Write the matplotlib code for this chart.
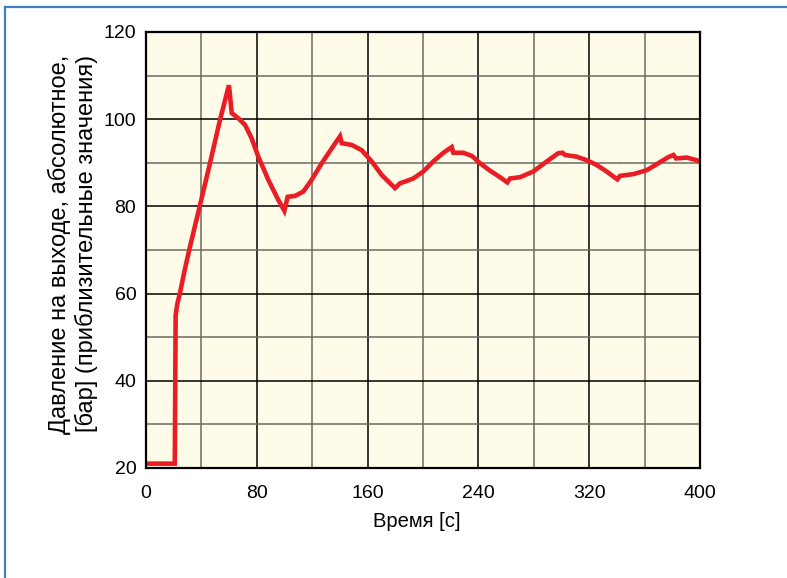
import matplotlib
matplotlib.use("Agg")
import matplotlib.pyplot as plt
from matplotlib.lines import Line2D

plt.rcParams['font.family'] = ['Liberation Sans', 'DejaVu Sans']

time_s = [0, 20.8, 21.4, 22.5, 24.5, 28, 31.8, 39, 46.2, 53.4, 59.9, 61.9,
          66.7, 71.5, 76.3, 81.1, 88.3, 95.5, 99.9, 102.3, 107.6, 113.6, 119.6,
          126.9, 134.1, 140.1, 141.3, 148.5, 155.7, 163, 170.2, 179.8, 183.4,
          187, 193, 200.2, 207.4, 214.7, 220.7, 221.9, 229.1, 235.2, 241.2,
          248.4, 255.6, 260.9, 262.8, 270, 279.6, 289.3, 297.7, 300.8, 302.5,
          311, 318.2, 325.4, 332.6, 340.3, 342.2, 351.8, 361.5, 369.9, 377.1,
          380.8, 382.7, 390.4, 397.6, 400]
pressure = [21, 21, 55, 57.5, 60.1, 65.5, 70.8, 80.3, 89.9, 99.8, 107.8, 101.4,
            100.2, 98.7, 95.6, 91.4, 86.1, 81.5, 79.0, 82.2, 82.4, 83.4, 86.1,
            89.9, 93.3, 96.1, 94.5, 94.1, 92.9, 90.3, 87.2, 84.2, 85.3,
            85.7, 86.4, 88.0, 90.3, 92.3, 93.6, 92.3, 92.3, 91.6, 89.9,
            88.2, 86.7, 85.5, 86.4, 86.7, 88.0, 90.3, 92.2, 92.3, 91.8,
            91.4, 90.6, 89.5, 88.0, 86.2, 87.0, 87.4, 88.3, 89.9, 91.3,
            91.8, 91.0, 91.2, 90.6, 90.3]

x_ticks = [0, 80, 160, 240, 320, 400]
y_ticks = [20, 40, 60, 80, 100, 120]
x_label = "Время [c]"
y_label = "Давление на выходе, абсолютное,\n[бар] (приблизительные значения)"

fig = plt.figure(figsize=(7.87, 5.78), dpi=100)
ax = fig.add_axes([146/787, 1-468/578, (700-146)/787, (468-32)/578])
ax.set_facecolor('#fefbe9')

# grid
for xv in range(40, 400, 40):
    ax.axvline(xv, color='#000000' if xv % 80 == 0 else '#6e6a60', lw=1.1, zorder=1)
for yv in range(30, 120, 10):
    ax.axhline(yv, color='#000000' if yv % 20 == 0 else '#6e6a60', lw=1.1, zorder=1)

ax.plot(time_s, pressure, color='#ea1c24', lw=3.3, solid_joinstyle='miter', zorder=3)

ax.set_xlim(0, 400)
ax.set_ylim(20, 120)
ax.set_xticks(x_ticks)
ax.set_yticks(y_ticks)
ax.tick_params(length=0, labelsize=14)
ax.tick_params(axis='y', pad=7)
ax.tick_params(axis='x', pad=12)
for s in ax.spines.values():
    s.set_linewidth(1.6)
    s.set_color('black')
    s.set_zorder(4)
ax.set_xlabel(x_label, fontsize=14.5)
ax.xaxis.set_label_coords(0.489, -0.100)
ax.set_ylabel(y_label, fontsize=17, linespacing=1.2)
ax.yaxis.set_label_coords(-0.087, 0.514)

fig.add_artist(Line2D([5/787, 5/787], [0, 1-7/578], color='#3b7fc4', lw=1.6, transform=fig.transFigure))
fig.add_artist(Line2D([5/787, 1], [1-7/578, 1-7/578], color='#3b7fc4', lw=1.6, transform=fig.transFigure))

fig.savefig('out.png', dpi=100)
